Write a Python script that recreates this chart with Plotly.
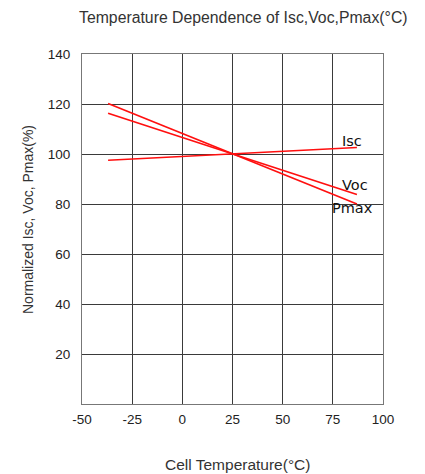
import plotly.graph_objects as go

temps = [-37, 25, 87]
isc = [97.5, 100, 102.6]
voc = [116.3, 100, 83.8]
pmax = [120.2, 100, 80.0]

x_ticks = [-50, -25, 0, 25, 50, 75, 100]
y_ticks = [20, 40, 60, 80, 100, 120, 140]

series = [("Isc", isc, 84.5, 105.2), ("Voc", voc, 86.0, 87.6), ("Pmax", pmax, 84.7, 78.4)]

fig = go.Figure()
for name, vals, lx, ly in series:
    fig.add_trace(go.Scatter(x=temps, y=vals, mode="lines", name=name,
                             line=dict(color="#ff0f0f", width=1.7), showlegend=False))
    fig.add_annotation(x=lx, y=ly, xref="x", yref="y", text=name, showarrow=False,
                       xanchor="center", yanchor="middle",
                       font=dict(family="DejaVu Sans, sans-serif", size=14.5, color="#111"))

axis_font = dict(family="Liberation Sans, Arial, sans-serif", size=13.5, color="#222")
fig.update_xaxes(range=[-50, 100], tickvals=x_ticks, ticktext=[str(v) for v in x_ticks],
                 showgrid=True, gridcolor="#3a3a3a", gridwidth=1, zeroline=False,
                 showline=True, linecolor="#777", linewidth=1, mirror=True,
                 ticks="", tickfont=axis_font, ticklabelstandoff=3)
fig.update_yaxes(range=[0, 140], tickvals=y_ticks, ticktext=[str(v) for v in y_ticks],
                 showgrid=True, gridcolor="#3a3a3a", gridwidth=1, zeroline=False,
                 showline=True, linecolor="#777", linewidth=1, mirror=True,
                 ticks="", tickfont=axis_font, ticklabelstandoff=8)

title_font = dict(family="Liberation Sans, Arial, sans-serif", size=14, color="#333")
fig.add_annotation(text="Temperature Dependence of Isc,Voc,Pmax(°C)", xref="paper", yref="paper",
                   x=0.535, y=1.103, showarrow=False, xanchor="center", yanchor="middle",
                   font=dict(title_font, size=15.8))
fig.add_annotation(text="Cell Temperature(°C)", xref="paper", yref="paper",
                   x=0.518, y=-0.174, showarrow=False, xanchor="center", yanchor="middle",
                   font=dict(title_font, size=15.5))
fig.add_annotation(text="Normalized Isc, Voc, Pmax(%)", xref="paper", yref="paper",
                   x=-0.179, y=0.526, showarrow=False, textangle=-90,
                   xanchor="center", yanchor="middle", font=title_font)

fig.update_layout(width=425, height=474, margin=dict(l=74, r=50, t=46, b=78),
                  paper_bgcolor="white", plot_bgcolor="white")

fig.write_html("out.html")
